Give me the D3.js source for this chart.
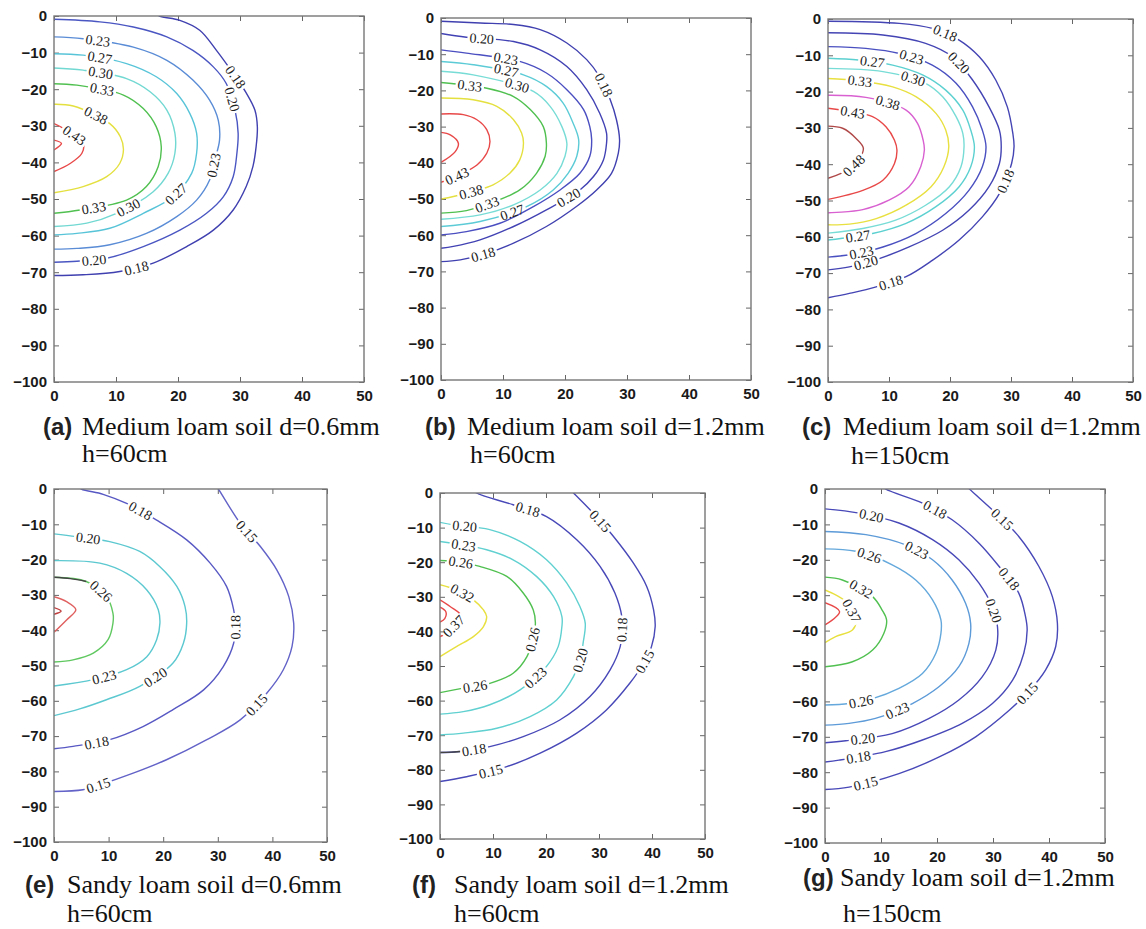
<!DOCTYPE html>
<html lang="en">
<head>
<meta charset="utf-8">
<title>Wetting front contours</title>
<script src="https://d3js.org/d3.v7.min.js"></script>
<style>
  body { margin: 0; background: #fff; }
  .tick text { font-family: "Liberation Sans", Arial, sans-serif; font-weight: bold; font-size: 15px; fill: #1a1a1a; }
  .tick line { stroke: #666; }
  .frame { fill: none; stroke: #777; stroke-width: 1.4; }
  .clabel { font-family: "Liberation Serif", "Times New Roman", serif; font-size: 14px; fill: #222; }
  .cap { font-family: "Liberation Serif", "Times New Roman", serif; font-size: 26px; fill: #111; }
  .tag { font-family: "Liberation Sans", Arial, sans-serif; font-weight: bold; font-size: 24px; fill: #222; }
</style>
</head>
<body>
<script>

// axis ticks
var xTicks = [0, 10, 20, 30, 40, 50];
var yTicks = [0, -10, -20, -30, -40, -50, -60, -70, -80, -90, -100];

// captions
var tags = ["(a)", "(b)", "(c)", "(e)", "(f)", "(g)"];
var captions1 = ["Medium loam soil d=0.6mm", "Medium loam soil d=1.2mm", "Medium loam soil d=1.2mm",
                 "Sandy loam soil d=0.6mm", "Sandy loam soil d=1.2mm", "Sandy loam soil d=1.2mm"];
var captions2 = ["h=60cm", "h=60cm", "h=150cm", "h=60cm", "h=60cm", "h=150cm"];

// (a) contour levels, lines [x cm, depth cm], label spots [line, x, y]
var levelsA = [0.18, 0.20, 0.23, 0.27, 0.30, 0.33, 0.38, 0.43, null];
var curvesA = [
  [[16.2,1],[17,0],[20.3,-1.2],[23.5,-3.9],[26.2,-9.4],[28.9,-15.7],[31,-21],[32.4,-25.7],[32.8,-30.3],[32.6,-35.7],[32.1,-41],[31,-46.6],[28.9,-53],[25.7,-58.5],[21.4,-63],[16,-67.5],[10.6,-69.8],[4.7,-70.7],[0,-70.9]],
  [[0,-0.9],[7.4,-1.6],[12.8,-3],[18.2,-5.7],[22.4,-9.4],[25.7,-13.9],[27.8,-18.5],[29.2,-25.7],[29.7,-32],[29.5,-37.5],[28.9,-43.9],[27.3,-49.4],[24.6,-53.9],[20.3,-58.5],[14.4,-63],[8.5,-66.2],[3.7,-67],[0,-67.3]],
  [[0,-5.7],[4.7,-6.2],[12.8,-8.5],[18.2,-12.1],[22.4,-17.5],[25.1,-23],[26.5,-28.5],[26.7,-33.9],[25.9,-39.5],[25.1,-44.8],[23,-50.3],[19.8,-54.8],[14.9,-59.4],[9,-62.5],[3.7,-63.5],[0,-63.7]],
  [[0,-10.3],[4.7,-10.7],[11.7,-13],[16.5,-16.6],[19.8,-21.2],[21.9,-26.6],[23,-32],[23,-37.5],[22.2,-43],[19.2,-49.4],[14.4,-53.9],[9,-58],[3.7,-59.4],[0,-59.8]],
  [[0,-14.2],[4.7,-14.8],[11.7,-17.1],[15.5,-20.7],[18.2,-25.7],[19.5,-32],[19.5,-37.5],[18.4,-43],[16,-48],[10.1,-53.9],[5.3,-56.6],[0,-57.5]],
  [[0,-18.5],[3.7,-18.9],[11.2,-21.6],[14.4,-25.3],[16.5,-30.3],[17.3,-35.7],[16.8,-41.2],[14.9,-46.6],[11.7,-50.3],[4.2,-53],[0,-53.9]],
  [[0,-24.1],[3.1,-24.6],[9,-29.4],[10.7,-33],[11.2,-36.5],[10.6,-40.3],[8.5,-43.9],[4.7,-46.6],[0,-48.3]],
  [[0,-29.4],[1.5,-30.7],[4.7,-34.8],[4.5,-37.5],[2.6,-40.3],[0,-42.5]],
  [[0,-33.9],[1.2,-34.8],[0,-36.6]]
];
var labelsA = [[2,7.1,-6.6],[3,7.4,-11.2],[4,7.5,-16.2],[5,7.7,-20.5],[6,6.9,-26.6],[7,3.1,-33],
  [0,28.9,-17.1],[1,28.1,-23],[2,25.7,-40.7],[3,19.8,-48.9],[4,12.2,-53],[5,6.4,-52.5],[1,6.4,-65.9],[0,12.8,-65.7]];

// (b)
var levelsB = [0.18, 0.20, 0.23, 0.27, 0.30, 0.33, 0.38, 0.43, null];
var curvesB = [
  [[0,-0.9],[6.3,-1.4],[11.7,-1.8],[16,-3.2],[20.3,-6.9],[23.5,-11.5],[25.5,-16],[27.3,-22.6],[28.3,-28.1],[28.8,-33.6],[28.6,-37.3],[27.5,-42.9],[25.1,-47.5],[21.9,-52],[17,-57.6],[11.7,-62.2],[7.4,-65],[3.1,-66.8],[0,-67.3]],
  [[0,-4.3],[4.1,-5.3],[11.7,-6.5],[16,-8.8],[20.3,-13.4],[23.5,-19.8],[25.6,-26.3],[26.7,-31.8],[26.7,-34.6],[26.2,-39.2],[24.6,-43.8],[22.4,-47.5],[17,-53],[11.7,-57.6],[6.3,-61.3],[2,-63.1],[0,-63.6]],
  [[0,-8.8],[4.1,-9.7],[12.7,-12],[17,-15.2],[20.3,-19.8],[23,-25.3],[24,-30],[24.3,-33.6],[24,-38.2],[22.4,-42.9],[19.2,-47.5],[14.9,-52.1],[9.5,-56.7],[4.1,-59],[0,-59.9]],
  [[0,-12],[5.2,-12.9],[13.3,-15.7],[17,-18.9],[19.7,-23.5],[21.3,-29],[22.2,-33.6],[21.9,-38.2],[20.5,-42.9],[18.1,-47.5],[13.8,-52.1],[6.3,-56.2],[0,-57.6]],
  [[0,-14.7],[5.2,-15.7],[14.9,-20.3],[17.6,-24.4],[19.5,-30],[20.3,-34.6],[20,-38.2],[18.7,-42.9],[16,-47.5],[11.7,-51.6],[6.3,-54.4],[0,-55.6]],
  [[0,-17.8],[7.4,-19.4],[11.7,-21.7],[14.4,-25.3],[16.5,-30],[17,-34.6],[16.8,-38.2],[15.4,-42.9],[12.7,-47.5],[8.5,-50.8],[4.1,-53.2],[0,-53.9]],
  [[0,-22.1],[5.2,-22.6],[9,-24.4],[11.7,-28.1],[13,-31.8],[13.3,-34.6],[12.7,-39.2],[11.1,-42.9],[8.4,-46.1],[5,-48],[2,-49.3],[0,-50]],
  [[0,-26.5],[3.6,-26.7],[5.8,-28.1],[7.4,-30.9],[7.9,-34.1],[7.4,-37.3],[5.8,-40.6],[3,-43.3],[0,-45.4]],
  [[0,-31.6],[1.5,-32.3],[2.8,-34.6],[2.3,-36.9],[0,-39.9]]
];
var labelsB = [[1,6.6,-5.5],[2,10.5,-10.6],[3,10.6,-14.3],[4,12.2,-18.9],[5,4.6,-19.1],[0,26.5,-18.4],
  [7,2.6,-43.6],[6,4.9,-48.2],[5,7.4,-51.2],[3,11.4,-53.2],[1,20.5,-49.3],[0,6.9,-65.7]];

// (c)
var levelsC = [0.18, 0.20, 0.23, 0.27, 0.30, 0.33, 0.38, 0.43, 0.48];
var curvesC = [
  [[0,-0.6],[11.7,-1.2],[17.1,-2.6],[21.5,-5.8],[24.8,-10.4],[27.5,-16.8],[29.4,-24.2],[30.3,-31.5],[30.5,-35.2],[30.1,-39.8],[28.1,-48.1],[25.3,-54.5],[21.5,-60.9],[17.1,-66.5],[12.8,-71],[7.9,-73.8],[3.5,-75.6],[0,-76.8]],
  [[0,-3.8],[9,-4.4],[16,-6.7],[20.4,-10.4],[23.7,-16.8],[26.4,-24.2],[28.1,-30.6],[28.4,-35.2],[28.1,-39.8],[26.4,-46.2],[23.1,-52.7],[18.8,-58.2],[13.3,-62.8],[8.4,-66],[3.5,-68.3],[0,-69.1]],
  [[0,-7.6],[6.2,-8.1],[11.7,-9.5],[17.1,-12.7],[21,-17.7],[23.7,-24.2],[25.3,-30.6],[25.9,-35.2],[25.3,-40.7],[23.1,-47.2],[19.3,-53.6],[14.4,-59.1],[9,-62.8],[4,-64.8],[0,-65.6]],
  [[0,-10.8],[5,-11.3],[10.6,-12.7],[15.5,-15.4],[19.3,-19.6],[22.1,-25.1],[23.4,-30.6],[24,-35.2],[23.4,-40.7],[21.5,-46.2],[17.7,-51.7],[12.8,-56.3],[7.3,-59.1],[0,-60.9]],
  [[0,-13.6],[9,-14.5],[16,-17.7],[18.8,-21.4],[21,-26.9],[22.1,-31.5],[22.3,-35.2],[21.8,-40.7],[19.9,-46.2],[16,-51.3],[11.1,-55.4],[5.7,-57.7],[0,-59]],
  [[0,-16.4],[5,-17],[10.6,-18.7],[14.4,-21.4],[17.7,-26],[19.3,-30.6],[19.8,-35.2],[19,-40.7],[16.9,-46.2],[12.8,-51.3],[7.9,-55],[3.5,-56.5],[0,-56.7]],
  [[0,-21],[6.2,-21.6],[12.8,-25.1],[14.7,-28.8],[15.6,-33.4],[15.8,-36.1],[15.2,-40.7],[13.3,-46.2],[10,-49.9],[5.7,-52.5],[0,-53.4]],
  [[0,-24.6],[4,-25.6],[7.3,-26.9],[9.5,-29.7],[10.9,-33.4],[11.3,-36.1],[10.9,-39.8],[9,-44.4],[5.7,-47.2],[0,-49.7]],
  [[0,-29.5],[2.4,-30.1],[4.6,-32.9],[5.8,-35.7],[4,-40.7],[0,-43.9]]
];
var labelsC = [[0,19.1,-4.4],[1,21.1,-12.7],[2,13.7,-10.6],[3,7.3,-11.5],[4,13.7,-17.7],[5,5.2,-17.6],[6,9.8,-23.1],
  [7,4,-26.2],[8,3.6,-39.3],[0,28.7,-44.4],[3,5,-60.3],[2,5.3,-62.8],[1,6.2,-66.9],[0,10.5,-73.6]];

// (e)
var levelsE = [0.15, 0.18, 0.20, 0.23, 0.26, null, null];
var curvesE = [
  [[29.6,1],[30.1,0],[34.1,-9.7],[37.8,-16.3],[40.8,-22.9],[43,-30.5],[43.9,-38],[43.6,-44.6],[42,-51.2],[39,-57.8],[34.1,-65.4],[28,-71],[20.6,-76.7],[14.5,-80.5],[8,-84],[5.3,-85.2],[0,-85.7]],
  [[4.2,1],[5,0],[9,-1.5],[13.3,-4.1],[18.8,-8.8],[24.3,-14.4],[28.6,-21],[31.6,-27.6],[32.9,-34.2],[33.2,-38],[32.9,-43.7],[31,-50.3],[27.4,-56.9],[21.8,-62.5],[16.3,-67.3],[10.2,-71],[3.5,-72.9],[0,-73.6]],
  [[0,-12.7],[4.1,-13.5],[10.2,-14.9],[15.7,-17.7],[19.4,-22],[22.5,-27.6],[24,-33.3],[24.3,-38],[23.7,-43.7],[21.8,-49.3],[15.7,-55.9],[9.6,-59.7],[4.7,-62.3],[0,-64.2]],
  [[0,-20.3],[8.4,-21],[13.3,-23.9],[17,-28.6],[19.1,-34.2],[19.4,-38],[18.8,-42.7],[17,-47.5],[13.3,-51.2],[7.2,-54],[0,-55.8]],
  [[0,-25],[5.9,-26.2],[9.6,-30.5],[10.8,-35.2],[10.8,-38],[9.9,-42.7],[7.2,-46.5],[3.5,-48.4],[0,-49]],
  [[0,-30.5],[2.3,-31.9],[4,-34.2],[2.3,-37.1],[0,-40.6]],
  [[0,-33.6],[1.3,-34.6],[0,-35.5]]
];
var stubsE = [[[0,-25],[3,-25.4],[5.9,-26.2]]];
var labelsE = [[1,15.6,-6.7],[0,35.4,-11.8],[2,6.2,-14.4],[4,8.5,-29.1],[1,33,-39.2],[3,9,-52.2],[2,18.7,-53.6],
  [0,37.3,-61.4],[1,7.8,-71.8],[0,8.3,-85]];

// (f)
var levelsF = [0.15, 0.18, 0.20, 0.23, 0.26, 0.32, 0.37, null];
var curvesF = [
  [[24.6,1],[25.2,0],[28.9,-5.8],[32.7,-12.5],[36.5,-20.3],[39,-27],[40.3,-33.8],[40.6,-38.6],[39.9,-44.4],[38.3,-49.5],[35.8,-55],[31.4,-62.7],[25.8,-69.4],[18.9,-75.2],[12.6,-79.1],[5,-82],[0,-83.4]],
  [[6.2,1],[6.9,0],[13.8,-3.4],[20.1,-6.8],[25.8,-13.5],[30.2,-21.2],[33,-28.9],[34.3,-35.7],[34.3,-40],[34,-44.4],[32.1,-51.1],[28.3,-58.8],[22.6,-65.6],[15.7,-70.4],[9.4,-73.3],[3.8,-74.7],[0,-75]],
  [[0,-8.5],[2.5,-9.2],[9.4,-10.6],[15.1,-14],[20.1,-19.3],[23.9,-26],[26.4,-32.8],[27.4,-37.6],[27,-43.4],[26.5,-48],[25.2,-53],[22,-59.8],[17,-64.6],[10.7,-68],[4.4,-69.4],[0,-69.9]],
  [[0,-14],[3,-14.7],[8.8,-16.4],[13.8,-19.3],[18.2,-24.1],[21.4,-29.9],[23,-35.7],[23,-38.6],[22.3,-44.4],[20.1,-50.1],[15.1,-56.9],[9.4,-61.2],[4.4,-63.2],[0,-63.9]],
  [[0,-19.5],[3.5,-19.9],[7.5,-21.2],[12.6,-24.1],[15.7,-28.9],[17.6,-33.8],[18,-37.6],[17.6,-41.5],[16.4,-47.3],[13.8,-52.1],[9.4,-55],[4.4,-56.4],[0,-57.7]],
  [[0,-26.5],[3.1,-28],[6.3,-30.9],[8.2,-33.8],[8.8,-35.7],[8.2,-38.6],[6.3,-41.5],[3.1,-44.4],[0,-47.3]],
  [[0,-30.9],[1.9,-32.8],[4.1,-35.7],[2.5,-38.6],[1.3,-40.5],[0,-41.5]],
  [[0,-33],[1.1,-34.3],[0.9,-36.3],[0,-37.3]]
];
var stubsF = [[[0,-75],[2,-74.9],[3.8,-74.7]]];
var labelsF = [[1,16.5,-5.3],[0,30.2,-8.2],[2,4.7,-9.6],[3,4.5,-15.2],[4,3.9,-20.5],[5,4.1,-29.4],[6,2.6,-38.4],
  [4,17.6,-42.4],[1,34.1,-39.5],[2,27.4,-48.7],[0,38.7,-48.7],[3,18.1,-53.5],[4,6.6,-55.7],[1,6.4,-74.3],[0,9.7,-80.8]];

// (g)
var levelsG = [0.15, 0.18, 0.20, 0.23, 0.26, 0.32, 0.37, null];
var curvesG = [
  [[25.2,1],[25.8,0],[30.5,-6.8],[34.6,-13.4],[38.2,-21.9],[40.6,-30.4],[41.5,-37.9],[41.2,-44.5],[39.4,-51.1],[36.5,-57],[32.9,-62.5],[26.9,-70],[20.4,-75.7],[13.2,-80.4],[4.3,-84.2],[0,-84.9]],
  [[10.1,1],[10.8,0],[17.4,-4],[22.7,-8.7],[27.5,-15.3],[31.1,-21.9],[34.6,-29.4],[35.8,-36],[36.1,-39.8],[35.5,-46.4],[33.5,-54],[29.9,-60.6],[24.5,-66.2],[17.4,-70.9],[10.8,-74.2],[2.5,-76.6],[0,-77.1]],
  [[0,-5.6],[6.1,-6.8],[13.2,-9.6],[19.2,-14.3],[23.9,-20],[27.5,-26.6],[29.8,-33],[30.8,-38.9],[30.5,-45.5],[28.1,-53],[23.9,-59.6],[18.6,-64.8],[12,-69.1],[3.7,-71.1],[0,-71.7]],
  [[0,-12],[7.3,-12.9],[14.4,-15.8],[19.2,-20],[22.7,-25.7],[25.1,-32.3],[26,-37.9],[25.7,-43.6],[23.9,-50.2],[20.4,-55.8],[15.6,-60.6],[9,-64.8],[4.3,-66.2],[0,-66.7]],
  [[0,-16.9],[5.5,-17.6],[12,-21.4],[16.2,-25.7],[19.2,-31.3],[20.7,-37],[20.7,-40.8],[19.8,-46.4],[17.4,-52.1],[13.2,-56.3],[8.5,-59.2],[4.3,-60.6],[0,-61]],
  [[0,-24.9],[3.1,-25.7],[8.5,-30.4],[10.2,-34.2],[11,-37],[10.5,-40.8],[8.5,-45.5],[4.9,-48.8],[0,-50.2]],
  [[0,-28.5],[1.9,-29.9],[3.7,-31.8],[5.5,-37.5],[4.9,-39.8],[1.9,-41.7],[0,-43.4]],
  [[0,-32.1],[2.6,-34.6],[0,-38.4]]
];
var labelsG = [[1,19.5,-6.3],[0,31.7,-8.5],[2,8.2,-8],[3,16.3,-17.6],[4,7.7,-19.7],[1,33.3,-24.9],[5,6.4,-28.3],
  [6,5,-34.2],[2,30.4,-34.2],[0,36,-57.5],[4,6.4,-59.8],[3,12.9,-62.3],[2,6.8,-70.8],[1,6.1,-76.4],[0,7.3,-83.4]];

// line colours per panel
var colorsA = ["#4040b0","#4a56c2","#5a8cd6","#58c4d8","#72d8d2","#50c050","#e4e040","#e84848","#e84848"];
var colorsB = ["#4040b0","#4242b4","#4a4ec0","#5ccbd6","#78dcd6","#50c050","#e4e040","#e84848","#e84848"];
var colorsC = ["#4444b4","#4444b4","#4a50c0","#5cd0d0","#78dcd6","#e8e040","#d860d0","#e84848","#b04848"];
var colorsE = ["#6262c8","#5858c4","#5cc8d0","#5cc8d0","#60c860","#e06060","#c04040"];
var colorsF = ["#4848b8","#4848b8","#60d0d0","#60d0d0","#50c050","#e8e040","#e84848","#e84848"];
var colorsG = ["#4848b8","#4848b8","#4848b8","#5c9ad8","#64a8dc","#50c050","#e8e040","#e84848"];

// layout of the six panels
var layout = [
  {x0:54,  y0:16,  x1:364,  y1:382, tagX:43,  textX:82,  line2X:82,  b1:435, b2:462},
  {x0:441, y0:18,  x1:751,  y1:380, tagX:425, textX:467, line2X:470, b1:435, b2:463},
  {x0:828, y0:19,  x1:1133, y1:382, tagX:802, textX:843, line2X:851, b1:435, b2:464},
  {x0:54,  y0:489, x1:327,  y1:842, tagX:25,  textX:67,  line2X:67,  b1:893, b2:922},
  {x0:440, y0:493, x1:705,  y1:839, tagX:412, textX:454, line2X:454, b1:893, b2:922},
  {x0:825, y0:489, x1:1105, y1:843, tagX:803, textX:840, line2X:843, b1:886, b2:922}
];

var panels = [
  {id:"a", levels:levelsA, curves:curvesA, labels:labelsA, colors:colorsA, stubs:[]},
  {id:"b", levels:levelsB, curves:curvesB, labels:labelsB, colors:colorsB, stubs:[]},
  {id:"c", levels:levelsC, curves:curvesC, labels:labelsC, colors:colorsC, stubs:[]},
  {id:"e", levels:levelsE, curves:curvesE, labels:labelsE, colors:colorsE, stubs:stubsE},
  {id:"f", levels:levelsF, curves:curvesF, labels:labelsF, colors:colorsF, stubs:stubsF},
  {id:"g", levels:levelsG, curves:curvesG, labels:labelsG, colors:colorsG, stubs:[]}
];

var svg = d3.select("body").append("svg").attr("width", 1146).attr("height", 929);
var defs = svg.append("defs");
var fmt = d3.format(".2f");

panels.forEach(function(p, i) {
  var L = layout[i];
  var w = L.x1 - L.x0, h = L.y1 - L.y0;
  var xs = d3.scaleLinear().domain([0, 50]).range([0, w]);
  var ys = d3.scaleLinear().domain([0, -100]).range([0, h]);

  var g = svg.append("g").attr("transform", "translate(" + L.x0 + "," + L.y0 + ")");

  // axes, ticks pointing inward on all four sides
  g.append("g").attr("transform", "translate(0," + h + ")")
    .call(d3.axisBottom(xs).tickValues(xTicks).tickSize(-5).tickPadding(8).tickFormat(d3.format("d")))
    .call(function(a) { a.select(".domain").remove(); });
  g.append("g")
    .call(d3.axisLeft(ys).tickValues(yTicks).tickSize(-5).tickPadding(7).tickFormat(d3.format("d")))
    .call(function(a) { a.select(".domain").remove(); });
  g.append("g")
    .call(d3.axisTop(xs).tickValues(xTicks).tickSize(-5).tickFormat(""))
    .call(function(a) { a.select(".domain").remove(); });
  g.append("g").attr("transform", "translate(" + w + ",0)")
    .call(d3.axisRight(ys).tickValues(yTicks).tickSize(-5).tickFormat(""))
    .call(function(a) { a.select(".domain").remove(); });

  defs.append("clipPath").attr("id", "clip-" + p.id)
    .append("rect").attr("width", w).attr("height", h);

  var line = d3.line().x(function(d) { return xs(d[0]); }).y(function(d) { return ys(d[1]); })
    .curve(d3.curveCatmullRom.alpha(0.5));

  var plot = g.append("g").attr("clip-path", "url(#clip-" + p.id + ")");
  var paths = plot.selectAll("path.contour").data(p.curves).enter().append("path")
    .attr("class", "contour")
    .attr("d", line)
    .attr("fill", "none")
    .attr("stroke", function(d, k) { return p.colors[k]; })
    .attr("stroke-width", 1.4)
    .nodes();

  plot.selectAll("path.stub").data(p.stubs).enter().append("path")
    .attr("class", "stub").attr("d", line)
    .attr("fill", "none").attr("stroke", "#444").attr("stroke-width", 1.4);

  // contour labels, placed on the nearest point of their line and cut into it
  var holes = p.curves.map(function() { return []; });
  p.labels.forEach(function(lab) {
    var k = lab[0], node = paths[k];
    var total = node.getTotalLength();
    var tx = xs(lab[1]), ty = ys(lab[2]);
    var best = 0, bd = Infinity;
    for (var l = 0; l <= total; l += 0.5) {
      var q = node.getPointAtLength(l);
      var dd = (q.x - tx) * (q.x - tx) + (q.y - ty) * (q.y - ty);
      if (dd < bd) { bd = dd; best = l; }
    }
    var pt = node.getPointAtLength(best);
    var p0 = node.getPointAtLength(Math.max(0, best - 4));
    var p1 = node.getPointAtLength(Math.min(total, best + 4));
    var ang = Math.atan2(p1.y - p0.y, p1.x - p0.x) * 180 / Math.PI;
    if (ang > 90) ang -= 180;
    if (ang < -90) ang += 180;
    var t = g.append("text").attr("class", "clabel")
      .attr("text-anchor", "middle").attr("dy", "0.35em")
      .attr("transform", "translate(" + pt.x + "," + pt.y + ") rotate(" + ang + ")")
      .text(fmt(p.levels[k]));
    holes[k].push({x: pt.x, y: pt.y, a: ang, w: t.node().getComputedTextLength() + 4});
  });

  holes.forEach(function(hs, k) {
    if (!hs.length) return;
    var id = "mask-" + p.id + "-" + k;
    var m = defs.append("mask").attr("id", id).attr("maskUnits", "userSpaceOnUse")
      .attr("x", -10).attr("y", -10).attr("width", w + 20).attr("height", h + 20);
    m.append("rect").attr("x", -10).attr("y", -10).attr("width", w + 20).attr("height", h + 20).attr("fill", "#fff");
    hs.forEach(function(hole) {
      m.append("rect").attr("x", -hole.w / 2).attr("y", -5).attr("width", hole.w).attr("height", 10)
        .attr("fill", "#000")
        .attr("transform", "translate(" + hole.x + "," + hole.y + ") rotate(" + hole.a + ")");
    });
    d3.select(paths[k]).attr("mask", "url(#" + id + ")");
  });

  g.append("rect").attr("class", "frame").attr("width", w).attr("height", h);

  // caption
  svg.append("text").attr("class", "tag").attr("x", L.tagX).attr("y", L.b1).text(tags[i]);
  svg.append("text").attr("class", "cap").attr("x", L.textX).attr("y", L.b1).text(captions1[i]);
  svg.append("text").attr("class", "cap").attr("x", L.line2X).attr("y", L.b2).text(captions2[i]);
});

</script>
</body>
</html>
